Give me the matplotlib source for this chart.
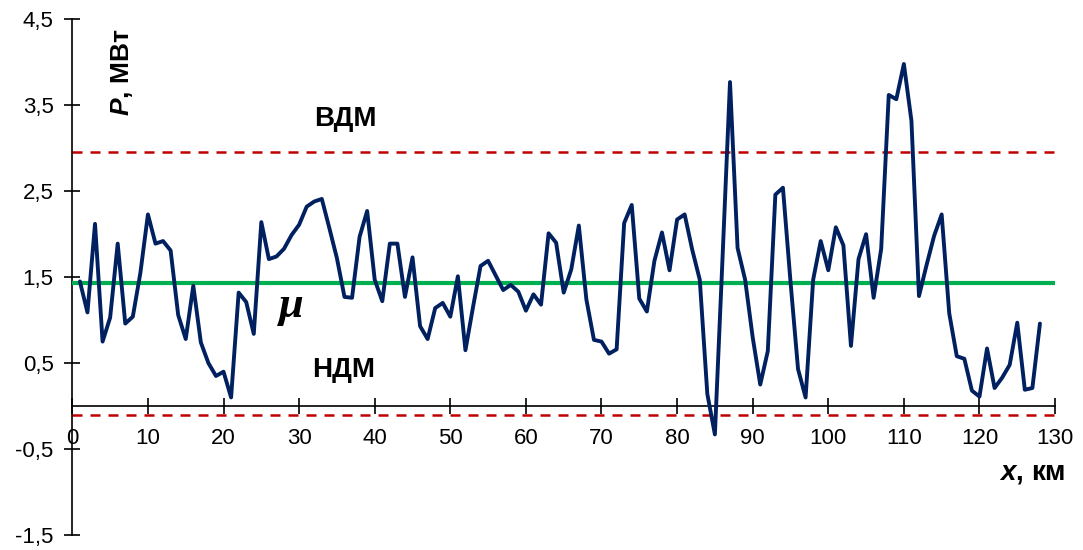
import matplotlib
matplotlib.use("Agg")
import matplotlib.pyplot as plt
from matplotlib.ticker import FixedLocator, FixedFormatter

plt.rcParams['font.family'] = ['Liberation Sans', 'DejaVu Sans']
plt.rcParams['mathtext.fontset'] = 'custom'
plt.rcParams['mathtext.rm'] = 'Liberation Sans'
plt.rcParams['mathtext.bf'] = 'Liberation Sans:bold'
plt.rcParams['mathtext.it'] = 'Liberation Sans:italic'
plt.rcParams['mathtext.bfit'] = 'Liberation Sans:bold:italic'

# Data
x_km = list(range(1, 129))
power = [1.45, 1.09, 2.12, 0.75, 1.03, 1.89, 0.96, 1.04, 1.55, 2.23,
         1.89, 1.92, 1.81, 1.06, 0.78, 1.40, 0.74, 0.50, 0.35, 0.40,
         0.10, 1.32, 1.21, 0.84, 2.14, 1.71, 1.74, 1.83, 1.99, 2.11,
         2.32, 2.38, 2.41, 2.07, 1.72, 1.27, 1.26, 1.97, 2.27, 1.47,
         1.22, 1.89, 1.89, 1.27, 1.73, 0.93, 0.78, 1.14, 1.20, 1.04,
         1.51, 0.65, 1.15, 1.63, 1.69, 1.52, 1.35, 1.41, 1.33, 1.11,
         1.30, 1.18, 2.01, 1.90, 1.32, 1.59, 2.10, 1.24, 0.77, 0.75,
         0.61, 0.66, 2.13, 2.34, 1.25, 1.10, 1.69, 2.02, 1.58, 2.17,
         2.23, 1.82, 1.47, 0.14, -0.33, 1.70, 3.77, 1.84, 1.47, 0.80,
         0.25, 0.64, 2.46, 2.54, 1.45, 0.43, 0.10, 1.47, 1.92, 1.58,
         2.08, 1.87, 0.70, 1.71, 2.00, 1.26, 1.83, 3.62, 3.57, 3.98,
         3.32, 1.28, 1.64, 1.98, 2.23, 1.08, 0.58, 0.55, 0.18, 0.11,
         0.67, 0.21, 0.33, 0.48, 0.97, 0.19, 0.21, 0.96]
mu = 1.43
upper_limit = 2.96   # ВДМ
lower_limit = -0.10  # НДМ
x_range = [0, 130]

x_ticks = list(range(0, 131, 10))
x_tick_labels = [str(v) for v in x_ticks]
y_ticks = [-1.5, -0.5, 0.5, 1.5, 2.5, 3.5, 4.5]
y_tick_labels = ['-1,5', '-0,5', '0,5', '1,5', '2,5', '3,5', '4,5']

fig = plt.figure(figsize=(10.83, 5.5), dpi=100)
ax = fig.add_axes([0.0668, 0.0273, 0.9074, 0.9376])

ax.plot(x_range, [upper_limit, upper_limit], color='#c00000', lw=1.8,
        dashes=(4, 3.2), zorder=2)
ax.plot(x_range, [lower_limit, lower_limit], color='#c00000', lw=1.8,
        dashes=(4, 3.2), zorder=2)
ax.plot(x_range, [mu, mu], color='#00b050', lw=3.0, zorder=3)
ax.plot(x_km, power, color='#002060', lw=2.8, solid_joinstyle='round',
        solid_capstyle='round', zorder=4)

ax.set_xlim(0, 130)
ax.set_ylim(-1.5, 4.5)

for s in ['top', 'right']:
    ax.spines[s].set_visible(False)
ax.spines['bottom'].set_position(('data', 0))
ax.spines['left'].set_linewidth(1.2)
ax.spines['bottom'].set_linewidth(1.2)

ax.xaxis.set_major_locator(FixedLocator(x_ticks))
ax.xaxis.set_major_formatter(FixedFormatter(x_tick_labels))
ax.yaxis.set_major_locator(FixedLocator(y_ticks))
ax.yaxis.set_major_formatter(FixedFormatter(y_tick_labels))
ax.tick_params(axis='both', direction='inout', length=11, width=1.2,
               labelsize=16, colors='black')
ax.tick_params(axis='x', pad=10)
ax.tick_params(axis='y', pad=8)

ax.text(6.6, 3.88, r'$\mathbfit{P}$, МВт', fontsize=19, fontweight='bold',
        rotation=90, ha='center', va='center')
ax.text(127.0, -0.78, r'$\mathbfit{x}$, км', fontsize=20, fontweight='bold',
        ha='center', va='center')
ax.text(36.1, 3.34, 'ВДМ', fontsize=20, fontweight='bold',
        ha='center', va='center')
ax.text(35.9, 0.42, 'НДМ', fontsize=20, fontweight='bold',
        ha='center', va='center')
ax.text(29.0, 1.16, 'μ', fontsize=32, fontweight='bold', fontstyle='italic',
        family=['Liberation Serif', 'DejaVu Serif'],
        ha='center', va='center')

fig.savefig('out.png', dpi=100)
